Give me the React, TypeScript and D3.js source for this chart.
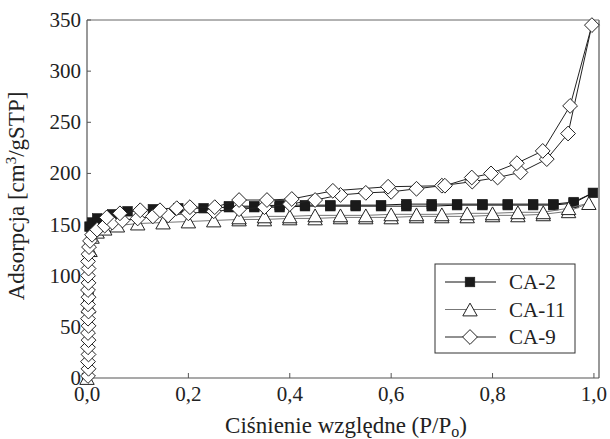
import React from "react";
import * as d3 from "d3";

const xTicks = [0, 0.2, 0.4, 0.6, 0.8, 1.0];
const yTicks = [0, 50, 100, 150, 200, 250, 300, 350];

// CA-2 (filled squares)
const ca2P = [0.0, 0.003, 0.005, 0.01, 0.02, 0.05, 0.08, 0.13, 0.18, 0.23, 0.28, 0.33, 0.38, 0.43, 0.48, 0.53, 0.58, 0.63, 0.68, 0.73, 0.78, 0.83, 0.88, 0.92, 0.96, 0.998,
  0.96, 0.92, 0.88, 0.83, 0.78, 0.73, 0.68, 0.63, 0.58, 0.53, 0.48, 0.43, 0.38, 0.33, 0.28];
const ca2V = [0, 80, 148, 152, 156, 160, 163, 165, 166, 166, 167, 167, 167, 168, 168, 168, 168, 168, 168, 169, 169, 169, 169, 169, 171, 181,
  172, 170, 170, 170, 170, 170, 170, 170, 169, 169, 169, 169, 169, 168, 168];

// CA-11 (open triangles)
const ca11P = [0.0, 0.003, 0.006, 0.01, 0.02, 0.035, 0.06, 0.1, 0.15, 0.2, 0.25, 0.3, 0.35, 0.4, 0.45, 0.5, 0.55, 0.6, 0.65, 0.7, 0.75, 0.8, 0.85, 0.9, 0.95, 0.99,
  0.95, 0.9, 0.85, 0.8, 0.75, 0.7, 0.65, 0.6, 0.55, 0.5, 0.45, 0.4, 0.35, 0.3];
const ca11V = [0, 70, 125, 138, 143, 146, 149, 151, 152, 153, 154, 155, 155, 156, 156, 157, 157, 157, 158, 158, 158, 159, 159, 160, 163, 171,
  166, 162, 162, 161, 161, 160, 160, 160, 159, 159, 159, 158, 158, 157];

// CA-9 (open diamonds)
const ca9P = [0.002, 0.003, 0.002, 0.003, 0.002, 0.003, 0.002, 0.003, 0.002, 0.003, 0.002, 0.003, 0.002, 0.003, 0.002, 0.003, 0.002, 0.003, 0.004, 0.006,
  0.01, 0.02, 0.035, 0.05, 0.07, 0.1, 0.13, 0.16, 0.2, 0.25, 0.3, 0.35, 0.4, 0.45, 0.5, 0.55, 0.6, 0.65, 0.7, 0.76, 0.81, 0.855, 0.907, 0.949, 0.996,
  0.953, 0.899, 0.848, 0.797, 0.759, 0.706, 0.594, 0.485, 0.404, 0.355, 0.3, 0.252, 0.203, 0.177, 0.144, 0.105, 0.065, 0.039];
const ca9V = [2, 9, 16, 23, 30, 37, 44, 51, 58, 65, 72, 79, 86, 93, 100, 107, 114, 121, 128, 134,
  140, 145, 149, 152, 154, 156, 158, 159, 161, 163, 165, 167, 170, 174, 179, 181, 182, 185, 188, 192, 196, 201, 214, 239, 345,
  266, 222, 210, 200, 196, 188, 187, 183, 175, 174, 174, 167, 167, 166, 164, 164, 161, 157];

const legendNames = ["CA-2", "CA-11", "CA-9"];

const W = 610, H = 439;
const x = d3.scaleLinear().domain([0, 1.01]).range([87, 599]);
const y = d3.scaleLinear().domain([0, 350]).range([378, 20]);

const FONT = "'Liberation Serif'";
const TXT = "#222";
const fs = { fontFamily: FONT };

function Marker({ kind, cx, cy }: { kind: string; cx: number; cy: number }) {
  if (kind === "square") {
    const s = 4.8;
    return <rect x={cx - s} y={cy - s} width={2 * s} height={2 * s} fill="#1a1a1a" stroke="#1a1a1a" strokeWidth={0.6} />;
  }
  if (kind === "triangle") {
    const hw = 7.2, hh = 6.4;
    return <path d={`M${cx},${cy - hh}L${cx + hw},${cy + hh}L${cx - hw},${cy + hh}Z`} fill="#fff" stroke="#222" strokeWidth={1} />;
  }
  const r = 7.4;
  return <path d={`M${cx},${cy - r}L${cx + r},${cy}L${cx},${cy + r}L${cx - r},${cy}Z`} fill="#fff" stroke="#222" strokeWidth={1} />;
}

const series = [
  { name: legendNames[0], P: ca2P, V: ca2V, kind: "square", line: "#111" },
  { name: legendNames[1], P: ca11P, V: ca11V, kind: "triangle", line: "#777" },
  { name: legendNames[2], P: ca9P, V: ca9V, kind: "diamond", line: "#222" },
];

export default function App() {
  return (
    <svg width={W} height={H} style={{ position: "absolute", left: 0, top: 0, background: "#fff" }}>
      <rect x={0} y={0} width={W} height={H} fill="#fff" />
      {/* frame */}
      <line x1={x(0)} x2={599} y1={20} y2={20} stroke="#666" strokeWidth={1} />
      <line x1={599} x2={599} y1={20} y2={378} stroke="#777" strokeWidth={1.5} />
      <line x1={x(0)} x2={x(0)} y1={20} y2={378} stroke="#555" strokeWidth={1.2} />
      <line x1={x(0)} x2={599} y1={378} y2={378} stroke="#555" strokeWidth={1.2} />
      {yTicks.map((t) => (
        <g key={"y" + t}>
          <line x1={x(0)} x2={x(0) + 4} y1={y(t)} y2={y(t)} stroke="#555" />
          <text x={x(0) - 6} y={y(t) + 7} textAnchor="end" fontSize={21} fill={TXT} style={fs}>{t}</text>
        </g>
      ))}
      {xTicks.map((t) => (
        <g key={"x" + t}>
          <line x1={x(t)} x2={x(t)} y1={378} y2={373} stroke="#555" />
          <text x={x(t)} y={401} textAnchor="middle" fontSize={21} fill={TXT} style={fs}>{t.toFixed(1).replace(".", ",")}</text>
        </g>
      ))}
      <text x={346} y={433} textAnchor="middle" fontSize={23} fill={TXT} style={fs}>
        Ciśnienie względne (P/P<tspan fontSize={16} dy={4}>o</tspan><tspan dy={-4}>)</tspan>
      </text>
      <text transform={`translate(24,196) rotate(-90)`} textAnchor="middle" fontSize={23} fill={TXT} style={fs}>
        Adsorpcja [cm<tspan fontSize={15} dy={-8}>3</tspan><tspan dy={8}>/gSTP]</tspan>
      </text>
      {series.map((s) => {
        const pts = s.P.map((p, i) => [x(p), y(s.V[i])] as [number, number]);
        const path = d3.line()(pts) || "";
        return (
          <g key={s.name}>
            <path d={path} fill="none" stroke={s.line} strokeWidth={1} />
            {pts.map((pt, i) => (
              <Marker key={i} kind={s.kind} cx={pt[0]} cy={pt[1]} />
            ))}
          </g>
        );
      })}
      {/* legend */}
      <rect x={435} y={264} width={140} height={89} fill="#fff" stroke="#333" strokeWidth={1} />
      {series.map((s, i) => {
        const ly = 282 + i * 27.5;
        return (
          <g key={"lg" + s.name}>
            <line x1={445} x2={496} y1={ly} y2={ly} stroke={s.line} strokeWidth={1} />
            <Marker kind={s.kind} cx={470} cy={ly} />
            <text x={509} y={ly + 7} fontSize={21} fill={TXT} style={fs}>{s.name}</text>
          </g>
        );
      })}
    </svg>
  );
}
